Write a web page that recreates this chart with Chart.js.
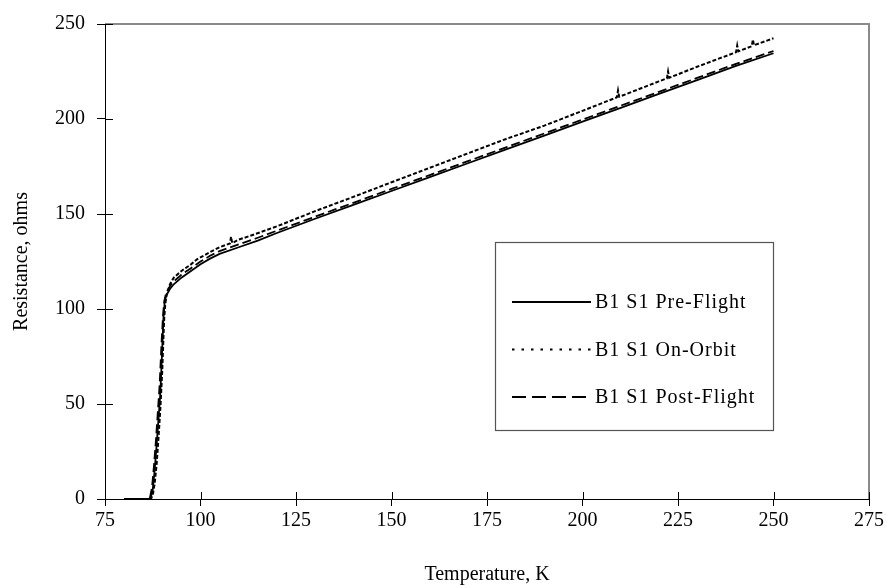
<!DOCTYPE html>
<html><head><meta charset="utf-8">
<script src="https://cdn.jsdelivr.net/npm/chart.js@4/dist/chart.umd.min.js"></script>
<style>html,body{margin:0;padding:0;background:#fff}#wrap{width:891px;height:588px}</style>
</head><body><div id="wrap"><canvas id="c" width="891" height="588"></canvas></div>
<script>
const xTickValues = [75, 100, 125, 150, 175, 200, 225, 250, 275];
const yTickValues = [0, 50, 100, 150, 200, 250];
const seriesLabels = ['B1 S1 Pre-Flight', 'B1 S1 On-Orbit', 'B1 S1 Post-Flight'];

const preT = [80, 84, 86.5, 87.0, 87.5, 88.0, 88.5, 89.0, 89.5, 90.0, 90.3, 90.6, 91, 92, 93, 95, 97.5, 100, 102.5, 105, 110, 115, 120, 130, 140, 150, 160, 170, 180, 190, 200, 210, 220, 230, 240, 250];
const preR = [0, 0, 0, 1, 5, 15, 28, 42, 56, 80, 95, 103, 107, 110.5, 113, 116.5, 120, 123.5, 126.5, 129, 132.5, 136, 140, 147.5, 154.8, 162.1, 169.4, 176.7, 184, 191.3, 198.6, 205.9, 213.2, 220.5, 227.8, 234.6];

const orbitT = [82, 86.5, 87.0, 87.5, 88.0, 88.5, 89.0, 89.5, 90.0, 90.3, 90.5, 90.8, 91.2, 92, 93, 95, 97.5, 99, 102.5, 105, 107.7, 108.0, 108.3, 110, 113, 120, 130, 140, 150, 160, 170, 180, 190, 200, 209.0, 209.3, 209.6, 210, 220, 222.1, 222.4, 222.7, 230, 240, 240.2, 240.5, 240.8, 244.3, 244.6, 244.9, 250];
const orbitR = [0, 0, 0, 2, 8, 18, 32, 48, 68, 85, 95, 103, 108, 113, 116.5, 120, 123.5, 126, 130, 132.5, 134.5, 138, 134.7, 136.5, 138.5, 143.5, 151.5, 159, 166.7, 174.3, 181.9, 189.5, 196.5, 204.3, 211.4, 215, 211.7, 212, 219.8, 221.4, 225, 221.7, 227.5, 235, 235.2, 238.7, 235.6, 238.3, 241.8, 238.8, 242.5];

const postT = [80, 84, 86.3, 86.8, 87.3, 87.8, 88.3, 88.8, 89.3, 89.8, 90.2, 90.5, 91, 92, 93, 95, 97.5, 100, 102.5, 105, 110, 115, 120, 130, 140, 150, 160, 170, 180, 190, 200, 210, 220, 230, 240, 250];
const postR = [0, 0, 0, 1, 6, 17, 30, 45, 60, 82, 97, 104, 108.5, 112, 114.5, 118, 121.5, 125, 128, 130.5, 134, 137.5, 141.2, 148.6, 155.9, 163.2, 170.5, 177.8, 185.1, 192.4, 199.7, 207, 214.3, 221.6, 228.9, 235.8];

const toXY = (T, R) => T.map((t, i) => ({x: t, y: R[i]}));
const FONT = 'Liberation Serif';

const datasets = [
  {label: seriesLabels[0], data: toXY(preT, preR), borderColor: '#000', borderWidth: 1.8, borderDash: [], legendDash: []},
  {label: seriesLabels[1], data: toXY(orbitT, orbitR), borderColor: '#000', borderWidth: 2, borderDash: [4, 2], legendDash: [2.5, 7]},
  {label: seriesLabels[2], data: toXY(postT, postR), borderColor: '#000', borderWidth: 1.8, borderDash: [9, 4], legendDash: [14, 6]}
].map(d => Object.assign(d, {showLine: true, pointRadius: 0, tension: 0, fill: false}));

const decor = {
  id: 'decor',
  beforeDatasetsDraw(chart) {
    const {ctx, chartArea: a, scales: {x, y}} = chart;
    ctx.save();
    ctx.strokeStyle = '#8a8a8a';
    ctx.lineWidth = 2;
    ctx.beginPath();
    ctx.moveTo(a.left, a.top); ctx.lineTo(a.right, a.top); ctx.lineTo(a.right, a.bottom);
    ctx.stroke();
    ctx.strokeStyle = '#000';
    ctx.lineWidth = 1;
    ctx.beginPath();
    xTickValues.forEach(v => { const p = Math.round(x.getPixelForValue(v)) + 0.5; ctx.moveTo(p, a.bottom); ctx.lineTo(p, a.bottom - 7); });
    yTickValues.forEach(v => { const p = Math.round(y.getPixelForValue(v)) + 0.5; ctx.moveTo(a.left, p); ctx.lineTo(a.left + 8, p); });
    ctx.stroke();
    ctx.restore();
  },
  afterDatasetsDraw(chart) {
    const {ctx} = chart;
    const bx = 495, by = 242, bw = 278, bh = 188;
    ctx.save();
    ctx.fillStyle = '#fff';
    ctx.fillRect(bx, by, bw, bh);
    ctx.strokeStyle = '#555';
    ctx.lineWidth = 1.2;
    ctx.strokeRect(bx + 0.5, by + 0.5, bw, bh);
    ctx.font = '20px "' + FONT + '"';
    ctx.fillStyle = '#000';
    ctx.textBaseline = 'middle';
    try { ctx.letterSpacing = '1px'; } catch (e) {}
    chart.data.datasets.forEach((d, i) => {
      const yy = 302 + i * 47.5;
      ctx.strokeStyle = '#000';
      ctx.lineWidth = 2;
      ctx.setLineDash(d.legendDash);
      ctx.beginPath(); ctx.moveTo(512, yy); ctx.lineTo(591, yy); ctx.stroke();
      ctx.setLineDash([]);
      ctx.fillText(d.label, 595, yy + 1);
    });
    ctx.restore();
  }
};

new Chart(document.getElementById('c'), {
  type: 'scatter',
  data: {datasets},
  plugins: [decor],
  options: {
    responsive: false,
    animation: false,
    devicePixelRatio: 1,
    layout: {padding: {top: 19, right: 22, left: 0, bottom: 0}},
    plugins: {legend: {display: false}, tooltip: {enabled: false}},
    scales: {
      x: {
        type: 'linear', min: 75, max: 275,
        afterBuildTicks: s => { s.ticks = xTickValues.map(v => ({value: v})); },
        afterFit: s => { s.height = 89; },
        grid: {drawOnChartArea: false, tickLength: 7, color: '#000', tickColor: '#000'},
        border: {color: '#000', width: 1},
        ticks: {font: {family: FONT, size: 20}, color: '#000', padding: 3, maxRotation: 0, autoSkip: false},
        title: {display: true, text: 'Temperature, K', font: {family: FONT, size: 20}, color: '#000', padding: {top: 0, bottom: 1}}
      },
      y: {
        type: 'linear', min: 0, max: 250,
        afterBuildTicks: s => { s.ticks = yTickValues.map(v => ({value: v})); },
        afterFit: s => { s.width = 105; },
        grid: {drawOnChartArea: false, tickLength: 8, color: '#000', tickColor: '#000'},
        border: {color: '#000', width: 1},
        ticks: {font: {family: FONT, size: 20}, color: '#000', padding: 12, autoSkip: false},
        title: {display: true, text: 'Resistance, ohms', font: {family: FONT, size: 20}, color: '#000', padding: {top: 10, bottom: 0}}
      }
    }
  }
});
</script>
</body></html>
